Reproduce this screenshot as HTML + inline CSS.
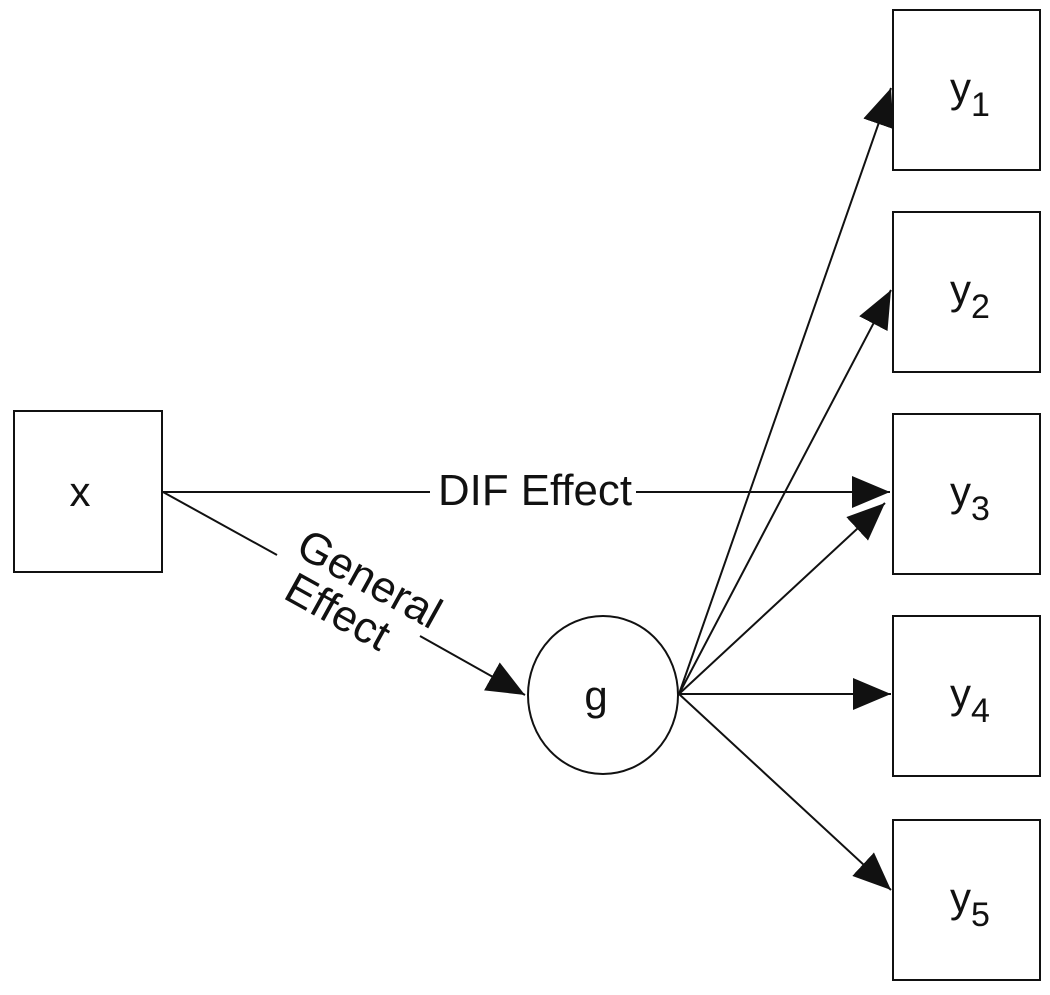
<!DOCTYPE html>
<html><head><style>body{margin:0;background:#fff}</style></head><body>
<svg width="1050" height="990" viewBox="0 0 1050 990" xmlns="http://www.w3.org/2000/svg" font-family="Liberation Sans, sans-serif">
<defs><marker id="a" markerWidth="38" markerHeight="32" refX="38" refY="16" orient="auto" markerUnits="userSpaceOnUse"><path d="M0,0 L38,16 L0,32 Z" fill="#111"/></marker></defs>
<g fill="none" stroke="#111" stroke-width="2">
<rect x="14" y="411" width="148" height="161"/>
<rect x="893" y="10" width="147" height="160"/>
<rect x="893" y="212" width="147" height="160"/>
<rect x="893" y="414" width="147" height="160"/>
<rect x="893" y="616" width="147" height="160"/>
<rect x="893" y="820" width="147" height="160"/>
<ellipse cx="603" cy="695" rx="75" ry="79"/>
<line x1="163" y1="492" x2="430" y2="492"/>
<line x1="636" y1="492" x2="890" y2="492" marker-end="url(#a)"/>
<line x1="163" y1="492" x2="277" y2="555"/>
<line x1="420" y1="636" x2="525" y2="695" marker-end="url(#a)"/>
<line x1="679" y1="694" x2="891" y2="88" marker-end="url(#a)"/>
<line x1="679" y1="694" x2="891" y2="290" marker-end="url(#a)"/>
<line x1="679" y1="694" x2="885" y2="503" marker-end="url(#a)"/>
<line x1="679" y1="694" x2="891" y2="694" marker-end="url(#a)"/>
<line x1="679" y1="694" x2="891" y2="890" marker-end="url(#a)"/>
</g>
<g fill="#111" font-size="42">
<text x="80" y="506" text-anchor="middle">x</text>
<text x="596" y="710" text-anchor="middle">g</text>
<rect x="432" y="470" width="202" height="40" fill="#fff"/>
<text x="535" y="505" text-anchor="middle" textLength="194" lengthAdjust="spacingAndGlyphs" font-size="44">DIF Effect</text>
<g transform="translate(355,597) rotate(29)"><text x="4" y="-8" text-anchor="middle" font-size="44">General</text><text x="-8" y="36" text-anchor="middle" font-size="44">Effect</text></g>
<text x="950" y="102">y<tspan font-size="34" dy="14">1</tspan></text>
<text x="950" y="304">y<tspan font-size="34" dy="14">2</tspan></text>
<text x="950" y="506">y<tspan font-size="34" dy="14">3</tspan></text>
<text x="950" y="708">y<tspan font-size="34" dy="14">4</tspan></text>
<text x="950" y="912">y<tspan font-size="34" dy="14">5</tspan></text>
</g>
</svg>
</body></html>
